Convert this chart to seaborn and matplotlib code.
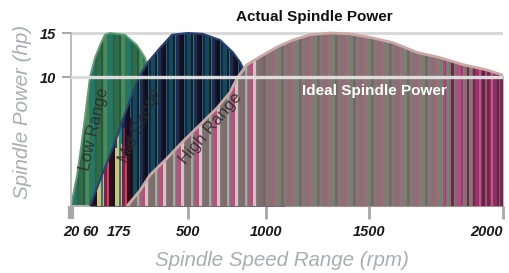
import numpy as np
import pandas as pd
import matplotlib
matplotlib.use("Agg")
import matplotlib.pyplot as plt
import seaborn as sns
from matplotlib.colors import to_rgb

# ---------------- data ----------------
low_rpm = [20, 33, 43, 52, 60, 80, 100, 119, 139, 203, 260, 297, 312, 345, 392, 439]
low_hp = [0, 2.4, 5.0, 7.6, 10.0, 12.2, 13.6, 14.8, 15.0, 14.8, 13.6, 12.2, 11.0, 8.6, 5.1, 0]

mid_rpm = [60, 108, 160, 213, 265, 312, 368, 425, 500, 596, 705, 788, 833, 853, 929, 1019, 1092]
mid_hp = [0, 2.4, 5.0, 7.6, 9.9, 11.7, 13.3, 14.8, 15.0, 14.9, 14.2, 12.8, 11.7, 11.0, 8.2, 4.3, 0]

high_rpm = [213, 274, 321, 401, 476, 577, 686, 769, 814, 878, 962, 1053, 1131, 1214, 1311,
            1408, 1504, 1590, 1679, 1765, 1851, 1940, 2000]
high_hp = [0, 1.2, 2.4, 3.7, 5.0, 6.3, 7.6, 8.8, 9.9, 11.4, 12.3, 13.4, 14.2, 14.8, 15.0,
           14.9, 14.5, 13.9, 12.8, 12.2, 11.4, 10.8, 10.2]

x_ticks = [20, 60, 175, 500, 1000, 1500, 2000]
x_tick_labels = ["20", "60", "175", "500", "1000", "1500", "2000"]
y_ticks = [10, 15]
y_tick_labels = ["10", "15"]
range_names = ["Low Range", "Mid Range", "High Range"]

# ---------------- non-linear axis scales (as drawn in the diagram) ----------------
X_ANCHOR_PX = [0, 19, 48, 117, 195, 298, 432]
Y_ANCHOR_HP = [0, 10, 15]
Y_ANCHOR_PX = [0, 129, 173]


def make_pw(xs, ys):
    xs = np.asarray(xs, float)
    ys = np.asarray(ys, float)
    s0 = (ys[1] - ys[0]) / (xs[1] - xs[0])
    s1 = (ys[-1] - ys[-2]) / (xs[-1] - xs[-2])

    def f(v):
        v = np.asarray(v, float)
        out = np.interp(v, xs, ys)
        out = np.where(v < xs[0], ys[0] + (v - xs[0]) * s0, out)
        out = np.where(v > xs[-1], ys[-1] + (v - xs[-1]) * s1, out)
        return out
    return f


sns.set_theme(style="white")
plt.rcParams["font.family"] = ["Liberation Sans", "DejaVu Sans"]

fig = plt.figure(figsize=(5.09, 2.73), dpi=100)
ax = fig.add_axes([71 / 509, 67 / 273, 432 / 509, 178 / 273])
ax.set_xscale("function", functions=(make_pw(x_ticks, X_ANCHOR_PX), make_pw(X_ANCHOR_PX, x_ticks)))
ax.set_yscale("function", functions=(make_pw(Y_ANCHOR_HP, Y_ANCHOR_PX), make_pw(Y_ANCHOR_PX, Y_ANCHOR_HP)))

# ---------------- striped fill helpers (decoration) ----------------
W, H = 432, 178
WIDTHS = [2, 3, 1, 2, 4, 2, 1, 3]


def stripe_cols(zones):
    cols = []
    k = 0
    while len(cols) < W:
        c = len(cols)
        for end, pal, step in zones:
            if c < end:
                break
        w = WIDTHS[k % len(WIDTHS)]
        cols.extend([pal[(k * step) % len(pal)]] * w)
        k += 1
    return np.array([to_rgb(x) for x in cols[:W]])


low_pal = ["#2f7656", "#266648", "#3f8458", "#22786a", "#346a46", "#4c8a5c", "#2a7060", "#1e5c44"]
mid_pal = ["#16162a", "#1e2248", "#1b7f80", "#0f0f1e", "#124a5a", "#222a50", "#0e6a70", "#181830"]
mid_low_pal = ["#c8406e", "#1a1020", "#e8a0a0", "#301018", "#d4c070", "#8a2040", "#15152a", "#1b7f80"]
high_pal_a = ["#c04a7a", "#8a6a70", "#5aa078", "#d2c4c2", "#7a6e6e", "#a85a80", "#6e8a74", "#b8a0a0"]
high_pal_b = ["#887072", "#8f7476", "#7c6c6c", "#946a76", "#768270", "#867678", "#9a7080", "#7a6468"]
high_pal_bc = ["#887072", "#a03a72", "#7c6c6c", "#6a2a4c", "#768270", "#b04a80", "#8f7476"]
high_pal_c = ["#a02c6a", "#6a2a4c", "#c0407c", "#4e3040", "#8a3060", "#b85a8a"]

low_img = np.repeat(stripe_cols([(W, low_pal, 3)])[None], H, axis=0)
mid_img = np.repeat(stripe_cols([(W, mid_pal, 3)])[None], H, axis=0)
mid_low = stripe_cols([(W, mid_low_pal, 3)])
HEIGHTS = [84, 62, 78, 50, 70, 88, 58, 74]
for c in range(19, 62):
    h = HEIGHTS[(c // 2) % len(HEIGHTS)]
    mid_img[0:h, c] = mid_low[c]
high_img = np.repeat(stripe_cols([(190, high_pal_a, 3), (372, high_pal_b, 3),
                                  (402, high_pal_bc, 3), (W, high_pal_c, 5)])[None], H, axis=0)


def striped_area(xv, yv, img, base, edge, elw, z):
    poly = ax.fill_between(xv, yv, 0, color=base, lw=0, zorder=z)
    im = ax.imshow(img, extent=[0, 1, 0, 1], transform=ax.transAxes, origin="lower",
                   aspect="auto", interpolation="nearest", zorder=z + 0.1)
    im.set_clip_path(poly.get_paths()[0], poly.get_transform())
    df = pd.DataFrame({"rpm": xv, "hp": yv})
    sns.lineplot(data=df, x="rpm", y="hp", ax=ax, color=edge, lw=elw, sort=False,
                 estimator=None, zorder=z + 0.2)


ax.axhline(15, color="#d9d9d9", lw=2.2, zorder=1)
striped_area(low_rpm, low_hp, low_img, "#2f7656", "#5f9c74", 1.4, 2)
striped_area(mid_rpm, mid_hp, mid_img, "#16162a", "#2c4070", 1.5, 3)
striped_area(high_rpm, high_hp, high_img, "#887072", "#caa8a4", 2.0, 4)
ax.axhline(10, color="#dcdcdc", lw=2.4, zorder=5)

ax.set_xlim(20, 2000)
ax.set_ylim(0, 15.57)

# ---------------- axes styling ----------------
for s in ["top", "right"]:
    ax.spines[s].set_visible(False)
ax.spines["left"].set_color("#b0b0b0")
ax.spines["left"].set_linewidth(1.2)
ax.spines["left"].set_bounds(0, 15)
ax.spines["bottom"].set_color("#b0b0b0")
ax.spines["bottom"].set_linewidth(1.5)

tick_font = dict(family=["Liberation Sans", "DejaVu Sans"], weight="bold", style="italic", size=10.5)
ax.set_xticks(x_ticks)
ax.set_xticklabels(x_tick_labels, fontdict=tick_font, color="#1a1a1a")
ax.set_yticks(y_ticks)
ax.set_yticklabels(y_tick_labels, fontdict=tick_font, color="#1a1a1a")
ax.tick_params(axis="x", bottom=True, direction="out", length=9.5, width=2, color="#a8a8a8", pad=4)
ax.tick_params(axis="y", left=True, direction="out", length=6.5, width=1.5, color="#a8a8a8", pad=4)
xt = ax.xaxis.get_major_ticks()
xt[1].tick1line.set_visible(False)
xt[2].tick1line.set_visible(False)
xt[0].tick1line.set_markeredgewidth(4.5)
ax.get_xticklabels()[-1].set_horizontalalignment("right")
ax.minorticks_off()

lab_font = dict(family=["Liberation Sans", "DejaVu Sans"], style="italic", size=14.8, color="#a9adb3")
ax.set_xlabel("Spindle Speed Range (rpm)", **lab_font)
ax.xaxis.set_label_coords((282 - 71) / 432, (206 - 260) / 178)
ax.xaxis.label.set_va("center")
ax.set_ylabel("Spindle Power (hp)", **lab_font)
ax.yaxis.set_label_coords((23 - 71) / 432, (206 - 112) / 178)
ax.yaxis.label.set_va("center")

# ---------------- annotations ----------------
fig.text(314 / 509, 1 - 17 / 273, "Actual Spindle Power", ha="center", va="center",
         fontsize=11, fontweight="bold", color="#111111")
fig.text(374 / 509, 1 - 91 / 273, "Ideal Spindle Power", ha="center", va="center",
         fontsize=11, fontweight="bold", color="#ffffff", zorder=10)
label_pos = [(94, 129, 77), (140, 125, 65), (211, 128, 50)]
for name, (px, py, rot) in zip(range_names, label_pos):
    fig.text(px / 509, 1 - py / 273, name, ha="center", va="center", rotation=rot,
             fontsize=12, color="#2a2a2a", alpha=0.85, rotation_mode="anchor", zorder=10)

fig.savefig("out.png", dpi=100)
